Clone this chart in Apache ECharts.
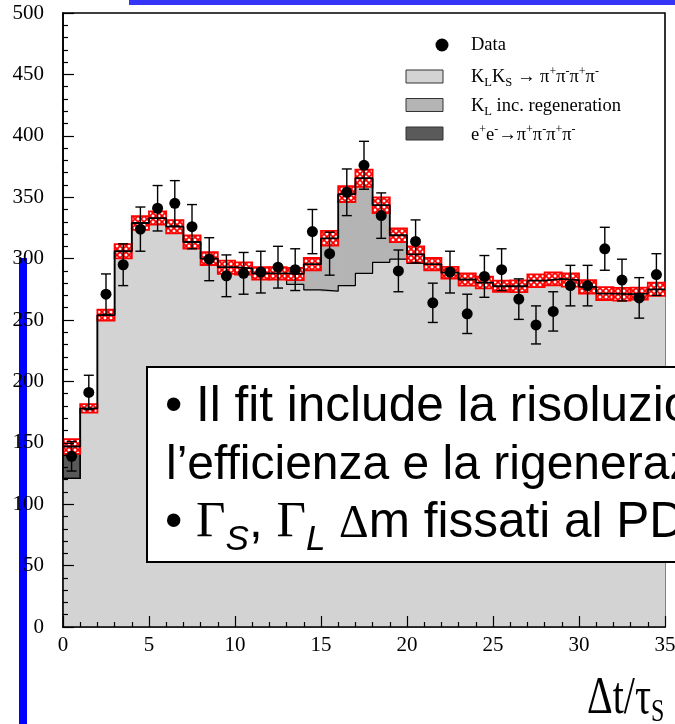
<!DOCTYPE html>
<html>
<head>
<meta charset="utf-8">
<script src="https://cdn.jsdelivr.net/npm/echarts@6/dist/echarts.min.js"></script>
<style>
  html, body { margin: 0; padding: 0; background: #ffffff; }
  #chart { width: 675px; height: 724px; }
</style>
</head>
<body>
<div id="chart"></div>
<script>
// ---- Δt/τS histogram: 35 bins of width 1 ----
const binLowEdges = [0, 1, 2, 3, 4, 5, 6, 7, 8, 9, 10, 11, 12, 13, 14, 15, 16, 17,
  18, 19, 20, 21, 22, 23, 24, 25, 26, 27, 28, 29, 30, 31, 32, 33, 34];
const binWidth = 1;

// Data (events per bin) and statistical errors
const dataCounts = [139, 191, 271, 295, 324, 341, 345, 326, 299.5, 286, 288, 289, 293, 291,
  322, 304, 354, 376, 335, 290, 314, 264, 289, 255, 285.5, 291, 267, 246, 257, 278, 278,
  308, 282.5, 268, 287];
const dataErrors = [12, 14, 16.5, 17, 18, 18.5, 18.5, 18, 17.5, 17, 17, 17, 17, 17, 18,
  17.5, 19, 19.5, 18.5, 17, 17.5, 16, 17, 16, 17, 17, 16.5, 15.5, 16, 16.5, 16.5, 17.5,
  17, 16.5, 17];

// Stacked fit components
const klksSignal = [121, 178, 254, 306, 329, 333, 326, 313.5, 299, 291, 289, 285, 283, 279,
  274.5, 273.5, 278, 288, 297, 299.5, 296, 293, 287.5, 283, 280.5, 277.5, 277.5, 282,
  283.5, 282.5, 277, 271.5, 271, 271.5, 275];
const klRegeneration = [0, 0, 0, 0, 0, 0, 0, 0, 1, 2, 3, 3, 5, 8.5, 21, 43, 74.5, 77.5,
  46.5, 19.5, 7.5, 2.5, 1, 0, 0, 0, 0, 0, 0, 0, 0, 0, 0, 0, 0];
const eeBackground = [26, 0, 0, 0, 0, 0, 0, 0, 0, 0, 0, 0, 0, 0, 0, 0, 0, 0, 0, 0, 0, 0,
  0, 0, 0, 0, 0, 0, 0, 0, 0, 0, 0, 0, 0];
// Half-width of the fit uncertainty band
const fitBandHalf = [6, 3.5, 4.5, 5.8, 5.6, 5.4, 5.4, 5.3, 5.2, 5.4, 5, 5, 5, 5, 5, 6,
  6.4, 7, 6.4, 5.6, 6.5, 5, 4.8, 5, 4.8, 4.5, 4.8, 5.2, 5.2, 5.4, 5.4, 5.2, 5.2, 4.8, 5.4];

// Axis ticks
const xTicks = [0, 5, 10, 15, 20, 25, 30, 35];
const yTicks = [0, 50, 100, 150, 200, 250, 300, 350, 400, 450, 500];

// ---- derived stacks ----
const lvl1 = klksSignal.map(v => v);
const lvl2 = lvl1.map((v, i) => v + klRegeneration[i]);
const total = lvl2.map((v, i) => v + eeBackground[i]);

function rectData(lo, hi) {
  return binLowEdges.map((e, i) => [e, e + binWidth, lo[i], hi[i]]);
}
function stepData(vals) {
  const d = binLowEdges.map((e, i) => [e, vals[i]]);
  d.push([binLowEdges[binLowEdges.length - 1] + binWidth, vals[vals.length - 1]]);
  return d;
}
function rectRender(style) {
  return function (params, api) {
    const lo = api.value(2), hi = api.value(3);
    if (hi - lo <= 0) return null;
    const p0 = api.coord([api.value(0), lo]);
    const p1 = api.coord([api.value(1), hi]);
    return {
      type: 'rect',
      shape: { x: p0[0], y: p1[1], width: p1[0] - p0[0], height: p0[1] - p1[1] },
      style: style
    };
  };
}

// cross-hatch pattern for the fit band
const pat = document.createElement('canvas');
pat.width = 6; pat.height = 6;
(function () {
  const c = pat.getContext('2d');
  c.fillStyle = '#ffffff'; c.fillRect(0, 0, 6, 6);
  c.strokeStyle = '#ff0000'; c.lineWidth = 1.7;
  c.beginPath();
  c.moveTo(-1, -1); c.lineTo(7, 7);
  c.moveTo(7, -1); c.lineTo(-1, 7);
  c.stroke();
})();

// text run layout helper (baseline-positioned pieces)
const meas = document.createElement('canvas').getContext('2d');
const SERIF = '"Liberation Serif", "Times New Roman", serif';
const SANS = '"Liberation Sans", Arial, sans-serif';
function run(parts, x0, baseline, z) {
  const els = [];
  let x = x0;
  parts.forEach(p => {
    const fam = p.serif ? SERIF : SANS;
    const fstyle = p.italic ? 'italic' : 'normal';
    meas.font = fstyle + ' normal ' + p.size + 'px ' + fam;
    const w = meas.measureText(p.t).width;
    const k = p.serif ? 0.3375 : 0.3465;
    els.push({
      type: 'text', x: x, y: baseline + (p.dy || 0) - k * p.size, z: z, silent: true,
      style: {
        text: p.t, fontSize: p.size, fontFamily: fam, fontStyle: fstyle,
        fill: '#000', align: 'left', verticalAlign: 'middle'
      }
    });
    x += w;
  });
  return els;
}

// ---- legend ----
const LS = 18.5, LSUB = 12.5, LSUP = 12;
const sub = t => ({ t: t, size: LSUB, serif: true, dy: 4 });
const sup = t => ({ t: t, size: LSUP, serif: true, dy: -7 });
const n = t => ({ t: t, size: LS, serif: true });
const legendText = [].concat(
  run([n('Data')], 471, 51, 50),
  run([n('K'), sub('L'), n('K'), sub('S'), n(' \u2192 \u03c0'), sup('+'), n('\u03c0'), sup('-'),
       n('\u03c0'), sup('+'), n('\u03c0'), sup('-')], 471, 83, 50),
  run([n('K'), sub('L'), n(' inc. regeneration')], 471, 112, 50),
  run([n('e'), sup('+'), n('e'), sup('-'), n('\u2192\u03c0'), sup('+'), n('\u03c0'), sup('-'),
       n('\u03c0'), sup('+'), n('\u03c0'), sup('-')], 471, 141, 50)
);
const legendMarks = [
  { type: 'circle', shape: { cx: 442, cy: 45, r: 6.5 }, style: { fill: '#000' }, z: 50 },
  { type: 'rect', shape: { x: 406, y: 70, width: 37, height: 13 }, style: { fill: '#d3d3d3', stroke: '#333', lineWidth: 1 }, z: 50 },
  { type: 'rect', shape: { x: 406, y: 98.5, width: 37, height: 13 }, style: { fill: '#b4b4b4', stroke: '#333', lineWidth: 1 }, z: 50 },
  { type: 'rect', shape: { x: 406, y: 127, width: 37, height: 13 }, style: { fill: '#5a5a5a', stroke: '#333', lineWidth: 1 }, z: 50 }
];

// ---- notes box ----
const B = 49.5;
const boxText = [].concat(
  run([{ t: '\u2022 Il fit include la risoluzione,', size: B }], 165, 424, 101),
  run([{ t: 'l\u2019efficienza e la rigenerazione', size: 48 }], 166, 482, 101),
  run([
    { t: '\u2022 ', size: B },
    { t: '\u0393', size: 51, serif: true },
    { t: 'S', size: 35, italic: true, dy: 12 },
    { t: ', ', size: B },
    { t: '\u0393', size: 51, serif: true },
    { t: 'L', size: 35, italic: true, dy: 12 },
    { t: ' ', size: B },
    { t: '\u0394', size: 46, serif: true },
    { t: 'm fissati al PDG', size: B }
  ], 165, 540, 101)
);

// ---- axis title ----
const axisTitle = {
  type: 'group', x: 587, y: 717, scaleY: 1.3, z: 50,
  children: run([{ t: '\u0394t/\u03c4', size: 40, serif: true }, { t: 'S', size: 24, serif: true, dy: 5 }], 0, 0, 50)
};

const chart = echarts.init(document.getElementById('chart'), null, { renderer: 'canvas' });

const axisCommon = {
  axisLine: { show: true, onZero: false, lineStyle: { color: '#000', width: 1.6 } },
  axisTick: { show: true, inside: true, length: 11, lineStyle: { color: '#000', width: 1.2 } },
  minorTick: { show: true, splitNumber: 5, length: 5, lineStyle: { color: '#000', width: 1.2 } },
  splitLine: { show: false },
  minorSplitLine: { show: false }
};

chart.setOption({
  animation: false,
  backgroundColor: '#ffffff',
  grid: {
    left: 63, right: 10, top: 13, bottom: 97,
    containLabel: false, outerBoundsMode: 'none',
    show: true, borderColor: '#000', borderWidth: 1.6, backgroundColor: 'transparent'
  },
  xAxis: Object.assign({}, axisCommon, {
    type: 'value', min: xTicks[0], max: xTicks[xTicks.length - 1], interval: xTicks[1] - xTicks[0],
    z: 10,
    axisLabel: { show: true, margin: 8, color: '#000', fontFamily: SERIF, fontSize: 21, showMaxLabel: true, showMinLabel: true }
  }),
  yAxis: Object.assign({}, axisCommon, {
    type: 'value', min: yTicks[0], max: yTicks[yTicks.length - 1], interval: yTicks[1] - yTicks[0],
    z: 10,
    axisLabel: { show: true, margin: 19, color: '#000', fontFamily: SERIF, fontSize: 21, showMaxLabel: true, showMinLabel: true }
  }),
  graphic: [
    { type: 'rect', shape: { x: 129, y: 0, width: 546, height: 5 }, style: { fill: '#3535fa' }, z: 1 },
    { type: 'rect', shape: { x: 19, y: 258, width: 8, height: 466 }, style: { fill: '#0000ff' }, z: 1 },
    { type: 'rect', shape: { x: 147, y: 367, width: 540, height: 195 }, style: { fill: '#ffffff', stroke: '#000', lineWidth: 2 }, z: 100 },
    axisTitle
  ].concat(legendMarks, legendText, boxText),
  series: [
    {
      name: 'KLKS', type: 'custom', z: 1, silent: true,
      encode: { x: [0, 1], y: [2, 3] },
      data: rectData(klksSignal.map(() => 0), lvl1),
      renderItem: rectRender({ fill: '#d3d3d3', stroke: '#d3d3d3', lineWidth: 1 })
    },
    {
      name: 'regen', type: 'custom', z: 1, silent: true,
      encode: { x: [0, 1], y: [2, 3] },
      data: rectData(lvl1, lvl2),
      renderItem: rectRender({ fill: '#b4b4b4', stroke: '#b4b4b4', lineWidth: 1 })
    },
    {
      name: 'ee', type: 'custom', z: 1, silent: true,
      encode: { x: [0, 1], y: [2, 3] },
      data: rectData(lvl2, total),
      renderItem: rectRender({ fill: '#5a5a5a', stroke: '#000', lineWidth: 1.4 })
    },
    {
      name: 'klksOutline', type: 'line', step: 'end', z: 2, silent: true,
      symbol: 'none', data: stepData(lvl1),
      lineStyle: { color: '#000', width: 1.2 }
    },
    {
      name: 'fitBand', type: 'custom', z: 3, silent: true,
      encode: { x: [0, 1], y: [2, 3] },
      data: rectData(total.map((v, i) => v - fitBandHalf[i]), total.map((v, i) => v + fitBandHalf[i])),
      renderItem: rectRender({ fill: { image: pat, repeat: 'repeat' }, stroke: '#ff0000', lineWidth: 1.8 })
    },
    {
      name: 'totalOutline', type: 'line', step: 'end', z: 4, silent: true,
      symbol: 'none', data: stepData(total),
      lineStyle: { color: '#000', width: 1.8 }
    },
    {
      name: 'errors', type: 'custom', z: 5, silent: true,
      encode: { x: 0, y: 1 },
      data: binLowEdges.map((e, i) => [e + binWidth / 2, dataCounts[i], dataErrors[i]]),
      renderItem: function (params, api) {
        const x = api.value(0), v = api.value(1), er = api.value(2);
        const top = api.coord([x, v + er]);
        const bot = api.coord([x, v - er]);
        const cap = 5;
        const st = { stroke: '#000', lineWidth: 1.4 };
        return {
          type: 'group',
          children: [
            { type: 'line', shape: { x1: top[0], y1: top[1], x2: bot[0], y2: bot[1] }, style: st },
            { type: 'line', shape: { x1: top[0] - cap, y1: top[1], x2: top[0] + cap, y2: top[1] }, style: st },
            { type: 'line', shape: { x1: bot[0] - cap, y1: bot[1], x2: bot[0] + cap, y2: bot[1] }, style: st }
          ]
        };
      }
    },
    {
      name: 'Data', type: 'scatter', z: 6, silent: true,
      symbol: 'circle', symbolSize: 11,
      itemStyle: { color: '#000', opacity: 1 },
      data: binLowEdges.map((e, i) => [e + binWidth / 2, dataCounts[i]])
    }
  ]
});
</script>
</body>
</html>
